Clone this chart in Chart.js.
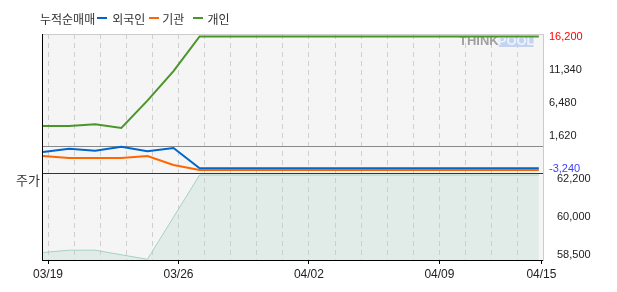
<!DOCTYPE html>
<html>
<head>
<meta charset="utf-8">
<script src="https://cdn.jsdelivr.net/npm/chart.js@4"></script>
<style>
  body { margin: 0; background: #fff; }
  #wrap { position: relative; width: 617px; height: 292px; }
  #chart { position: absolute; left: 0; top: 0; }
  .legend {
    position: absolute; left: 40px; top: 13px; height: 12px;
    font: 12px/12px "Noto Sans CJK KR", sans-serif; color: #333;
    display: flex; align-items: center; white-space: nowrap;
  }
  .legend .sw { display: inline-block; width: 10px; height: 2px; position: relative; top: -1px; }
  #priceLabel {
    position: absolute; left: 16px; top: 173px;
    font: 13px/13px "Noto Sans CJK KR", sans-serif; color: #333;
  }
</style>
</head>
<body>
<div id="wrap">
  <canvas id="chart" width="617" height="292"></canvas>
  <div class="legend">
    <span>누적순매매</span>
    <span class="sw" style="background:#0066cc;margin:0 5px 0 2px"></span><span>외국인</span>
    <span class="sw" style="background:#ff6600;margin:0 3px 0 4px"></span><span>기관</span>
    <span class="sw" style="background:#4a962a;margin:0 4px 0 9px"></span><span>개인</span>
  </div>
  <div id="priceLabel">주가</div>
</div>
<script>
// ─────────────────────────────────────────
// DATA
// ─────────────────────────────────────────

const dates = ["03/19","03/20","03/21","03/22","03/25","03/26","03/27","03/28","03/29","04/01",
               "04/02","04/03","04/04","04/05","04/08","04/09","04/10","04/11","04/12","04/15"];

const foreign = [-750, -260, -560, 30, -650, -160, -3130, -3130, -3130, -3130,
                 -3130, -3130, -3130, -3130, -3130, -3130, -3130, -3130, -3130, -3130];
const inst    = [-1340, -1630, -1630, -1630, -1340, -2650, -3380, -3380, -3380, -3380,
                 -3380, -3380, -3380, -3380, -3380, -3380, -3380, -3380, -3380, -3380];
const retail  = [3080, 3080, 3310, 2790, 6790, 11110, 16200, 16200, 16200, 16200,
                 16200, 16200, 16200, 16200, 16200, 16200, 16200, 16200, 16200, 16200];
const price   = [58800, 58900, 58900, 58700, 58500, 60350, 62200, 62200, 62200, 62200,
                 62200, 62200, 62200, 62200, 62200, 62200, 62200, 62200, 62200, 62200];

const flowTicks       = [-3240, 1620, 6480, 11340, 16200];
const priceTicks      = [58500, 60350, 62200];
const priceTickLabels = ["58,500", "60,000", "62,200"];
const labelledDates   = ["03/19", "03/26", "04/02", "04/09", "04/15"];

// ─────────────────────────────────────────
// HELPERS / PLUGINS
// ─────────────────────────────────────────

const pts = arr => arr.map((v, i) => ({ x: i, y: v }));
const tickFont = { family: "'Liberation Sans', Arial, sans-serif", size: 11 };

const plotBg = {
  id: "plotBg",
  beforeDraw(chart) {
    const { ctx, chartArea: a } = chart;
    ctx.save();
    ctx.fillStyle = "#f5f5f5";
    ctx.fillRect(a.left, a.top, a.right - a.left, a.bottom - a.top);
    ctx.restore();
  }
};

// THINKPOOL mark, top right of plot
const watermark = {
  id: "watermark",
  beforeDatasetsDraw(chart) {
    const { ctx, chartArea: a } = chart;
    const x = a.right - 84, y = a.top + 1;
    ctx.save();
    ctx.font = "bold 13px 'Liberation Sans', Arial, sans-serif";
    ctx.textBaseline = "top";
    ctx.fillStyle = "#a0a0a0";
    ctx.fillText("THINK", x, y);
    const w = ctx.measureText("THINK").width;
    const pw = ctx.measureText("POOL").width;
    ctx.fillStyle = "#c4d3ee";
    ctx.fillRect(x + w, y + 1, pw - 2, 11);
    ctx.fillStyle = "#eef3fb";
    ctx.fillText("POOL", x + w - 1, y);
    ctx.restore();
  }
};

// ─────────────────────────────────────────
// CHART
// ─────────────────────────────────────────

new Chart(document.getElementById("chart"), {
  type: "line",
  data: {
    datasets: [
      {
        label: "주가", data: pts(price), yAxisID: "y2",
        borderColor: "#a6d2c2", borderWidth: 1,
        backgroundColor: "rgba(185,215,202,0.32)", fill: "start"
      },
      { label: "개인",   data: pts(retail),  yAxisID: "y", borderColor: "#4a962a", borderWidth: 2 },
      { label: "기관",   data: pts(inst),    yAxisID: "y", borderColor: "#ff6600", borderWidth: 2 },
      { label: "외국인", data: pts(foreign), yAxisID: "y", borderColor: "#0066cc", borderWidth: 2 }
    ]
  },
  options: {
    responsive: false,
    animation: false,
    devicePixelRatio: 1,
    layout: { padding: { left: 42, top: 34, right: 0, bottom: 0 } },
    elements: { point: { radius: 0 }, line: { tension: 0 } },
    plugins: { legend: { display: false }, tooltip: { enabled: false } },
    scales: {
      x: {
        type: "linear", min: -0.04, max: 19.16,
        afterBuildTicks: s => {
          s.ticks = dates.map((d, i) => ({ value: i === dates.length - 1 ? 19.1 : i + 0.19 }));
        },
        afterFit: s => { s.height = 32; },
        ticks: {
          autoSkip: false, maxRotation: 0, padding: 3,
          font: { family: "'Liberation Sans', Arial, sans-serif", size: 12 }, color: "#222",
          callback: (v, i) => labelledDates.includes(dates[i]) ? dates[i] : ""
        },
        grid: {
          color: c => c.index === dates.length - 1 ? "rgba(0,0,0,0)" : "#cfcfcf",
          tickColor: c => labelledDates.includes(dates[c.index]) ? "#000" : "rgba(0,0,0,0)",
          tickLength: 4
        },
        border: { color: "#000", dash: [5, 4] }
      },
      y: {
        type: "linear", position: "right", stack: "panel", stackWeight: 139,
        min: -3827, max: 16567,
        afterBuildTicks: s => {
          s.ticks = [s.min, 0, s.max, ...flowTicks].sort((a, b) => a - b).map(v => ({ value: v }));
        },
        afterFit: s => { s.width = 74; },
        ticks: {
          autoSkip: false, padding: 6, font: tickFont,
          callback: v => flowTicks.includes(v) ? v.toLocaleString("en-US") : "",
          color: c => c.tick.value === 16200 ? "#ff0000" : c.tick.value === -3240 ? "#4040ff" : "#222"
        },
        grid: {
          drawTicks: false,
          color: c => {
            const v = c.tick.value;
            if (v === c.scale.min) return "#333";
            if (v === 0) return "#8a8a8a";
            if (v === c.scale.max) return "#cccccc";
            return "rgba(0,0,0,0)";
          }
        },
        border: { color: "#cccccc" }
      },
      y2: {
        type: "linear", position: "right", stack: "panel", stackWeight: 87,
        min: 58470, max: 62288,
        afterBuildTicks: s => { s.ticks = priceTicks.map(v => ({ value: v })); },
        afterFit: s => { s.width = 74; },
        ticks: {
          autoSkip: false, padding: 6, color: "#222",
          font: { ...tickFont, lineHeight: 0.8 },
          // keep end labels inside the panel (top one below, bottom one above)
          callback: (v, i, t) => i === t.length - 1 ? ["", priceTickLabels[i]]
                               : i === 0 ? [priceTickLabels[i], ""]
                               : priceTickLabels[i]
        },
        grid: { display: false },
        border: { color: "#cccccc" }
      },
      yl: {
        type: "linear", position: "left", display: true,
        afterFit: s => { s.width = 0; },
        ticks: { display: false },
        grid: { display: false },
        border: { color: "#000" }
      }
    }
  },
  plugins: [plotBg, watermark]
});
</script>
</body>
</html>
